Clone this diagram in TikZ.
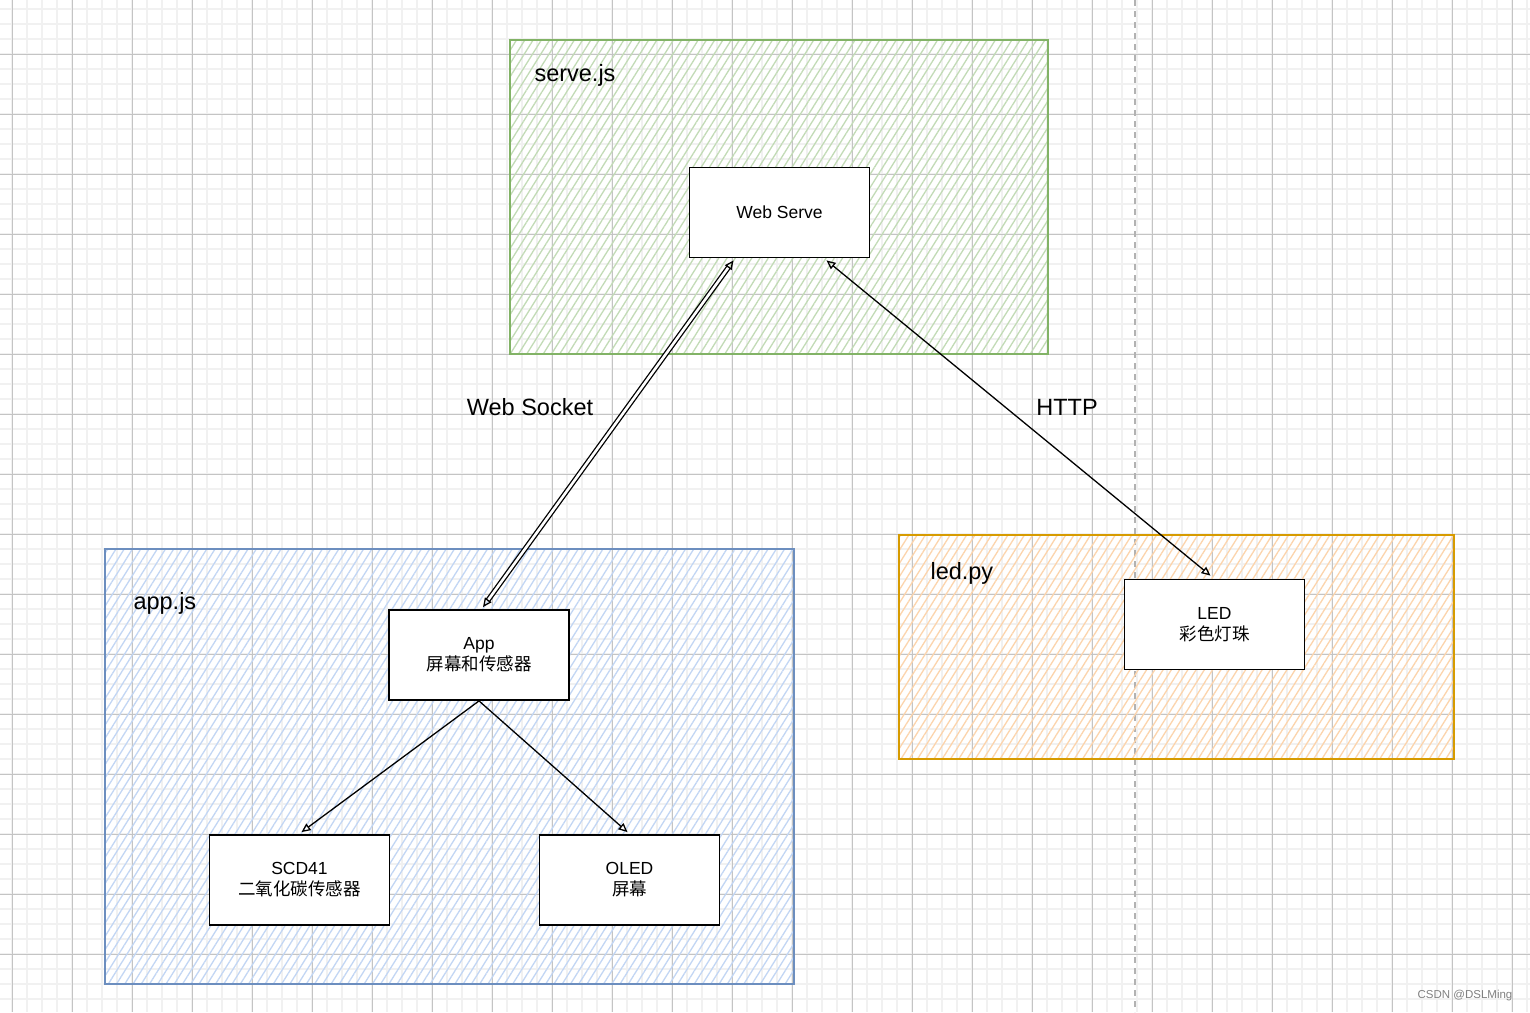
\documentclass[tikz,border=0pt]{standalone}
\usepackage{fontspec}
\setmainfont{Liberation Sans}
\newfontfamily\cjk{Noto Sans CJK SC}
\usetikzlibrary{arrows.meta,patterns.meta}
\definecolor{gridminor}{HTML}{F1F1F1}
\definecolor{gridmajor}{HTML}{C4C4C4}
\definecolor{servegreen}{HTML}{82B366}
\definecolor{hatchgreen}{HTML}{C2DBB6}
\definecolor{appblue}{HTML}{6C8EBF}
\definecolor{hatchblue}{HTML}{C2D6F4}
\definecolor{ledorange}{HTML}{D79B00}
\definecolor{hatchorange}{HTML}{FCD4AC}

\begin{document}
\begin{tikzpicture}[x=1pt,y=-1pt,
  >={Triangle[open,length=9pt,width=8pt]},
  unit/.style={draw,fill=white,line width=1.8pt,minimum width=180pt,minimum height=90pt,
    inner sep=0pt,align=center,font=\fontsize{17.5}{21}\selectfont},
  tag/.style={anchor=west,font=\fontsize{23.5}{28}\selectfont},
  linklabel/.style={font=\fontsize{23.5}{28}\selectfont},
  link/.style={line width=1.3pt}]
\useasboundingbox (0,0) rectangle (1530,1012);
\fill[white] (0,0) rectangle (1530,1012);
\foreach \x in {-3,12,...,1530} \draw[gridminor,line width=2pt] (\x,0)--(\x,1012);
\foreach \y in {-6,9,...,1012} \draw[gridminor,line width=2pt] (0,\y)--(1530,\y);
\foreach \x in {12,72,...,1530} \draw[gridmajor,line width=1pt] (\x,0)--(\x,1012);
\foreach \y in {54,114,...,1012} \draw[gridmajor,line width=1pt] (0,\y)--(1530,\y);
\draw[gray!60,line width=1.5pt,dash pattern=on 6pt off 5pt] (1135,0)--(1135,1012);

\draw[servegreen,line width=1.8pt,pattern={Lines[angle=58,distance=7pt,line width=1.3pt]},pattern color=hatchgreen] (510,40) rectangle (1048,354);
\draw[appblue,line width=1.8pt,pattern={Lines[angle=58,distance=7pt,line width=1.3pt]},pattern color=hatchblue] (105,549) rectangle (794,984);
\draw[ledorange,line width=1.8pt,pattern={Lines[angle=58,distance=7pt,line width=1.3pt]},pattern color=hatchorange] (899,535) rectangle (1454,759);

\node[tag] (servejs) at (531,75) {serve.js};
\node[tag] (appjs) at (130,603) {app.js};
\node[tag] (ledpy) at (927,573) {led.py};

\node[unit] (web) at (779.5,212.5) {Web Serve};
\node[unit] (app) at (479,655) {App\\{\cjk 屏幕和传感器}};
\node[unit] (scd) at (299.5,880) {SCD41\\{\cjk 二氧化碳传感器}};
\node[unit] (oled) at (629.5,880) {OLED\\{\cjk 屏幕}};
\node[unit] (led) at (1214.5,624.5) {LED\\{\cjk 彩色灯珠}};

\draw[link,double,double distance=2.6pt,<->] ([xshift=4pt,yshift=2pt]app.north) -- ([xshift=-46pt,yshift=-2pt]web.south);
\draw[link,<->] ([xshift=-4pt,yshift=3pt]led.north) -- ([xshift=47pt,yshift=-2pt]web.south);
\draw[link,->] (app.south) -- ([xshift=2pt,yshift=2pt]scd.north);
\draw[link,->] (app.south) -- ([xshift=-2pt,yshift=2pt]oled.north);

\node[linklabel] (ws) at (530,407) {Web Socket};
\node[linklabel] (http) at (1067,407) {HTTP};
\node[gray,font=\fontsize{11.5}{14}\selectfont] (mark) at (1465,996) {CSDN @DSLMing};
\end{tikzpicture}
\end{document}
